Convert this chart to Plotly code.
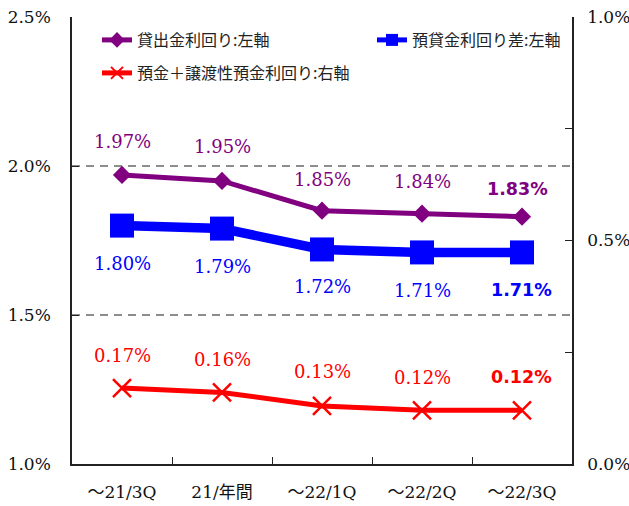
import plotly.graph_objects as go

# ---- data ----
categories = ["～21/3Q", "21/年間", "～22/1Q", "～22/2Q", "～22/3Q"]
lending_yield = [1.97, 1.95, 1.85, 1.84, 1.83]      # left axis
loan_deposit_spread = [1.80, 1.79, 1.72, 1.71, 1.71]  # left axis
deposit_yield = [0.17, 0.16, 0.13, 0.12, 0.12]      # right axis

series_names = ["貸出金利回り:左軸", "預貸金利回り差:左軸", "預金＋譲渡性預金利回り:右軸"]

left_ticks = [1.0, 1.5, 2.0, 2.5]
right_ticks = [0.0, 0.5, 1.0]
grid_levels = [1.5, 2.0]

# ---- styles ----
PURPLE = "#800080"
BLUE = "#0000FF"
RED = "#FF0000"
SERIF = "DejaVu Serif, Noto Sans CJK JP"
BOLD_SANS = "DejaVu Sans"
CJK = "Noto Sans CJK JP"

W, H = 629, 506
ML, MR, MT, MB = 72, 57, 17, 42
PW, PH = W - ML - MR, H - MT - MB

def px_x(x):
    return (x - ML) / PW

def px_y(y):
    return (H - MB - y) / PH

fig = go.Figure()

fig.add_trace(go.Scatter(
    x=categories, y=lending_yield, name=series_names[0], mode="lines+markers",
    line=dict(color=PURPLE, width=5),
    marker=dict(symbol="diamond", size=14, color=PURPLE),
    legend="legend", cliponaxis=False,
))
fig.add_trace(go.Scatter(
    x=categories, y=loan_deposit_spread, name=series_names[1], mode="lines+markers",
    line=dict(color=BLUE, width=9.5),
    marker=dict(symbol="square", size=24, color=BLUE),
    legend="legend2", cliponaxis=False,
))
fig.add_trace(go.Scatter(
    x=categories, y=deposit_yield, name=series_names[2], mode="lines+markers",
    yaxis="y2",
    line=dict(color=RED, width=5),
    marker=dict(symbol="x-thin", size=18, color=RED, line=dict(color=RED, width=2.5)),
    legend="legend3", cliponaxis=False,
))

# ---- data labels ----
label_specs = [
    (lending_yield, "y", PURPLE, [33, 34, 31, 32, 28], [0, 0, 0, 0, -5]),
    (loan_deposit_spread, "y", BLUE, [-38, -38, -37, -38, -38], [0, 0, 0, 0, -1]),
    (deposit_yield, "y2", RED, [33, 33, 34, 33, 33], [0, 0, 0, 0, -1]),
]
annotations = []
for values, yref, color, yshifts, xshifts in label_specs:
    n = len(values)
    for i, (c, v) in enumerate(zip(categories, values)):
        last = i == n - 1
        annotations.append(dict(
            x=c, y=v, xref="x", yref=yref,
            text=(f"<b>{v:.2f}%</b>" if last else f"{v:.2f}%"),
            showarrow=False, yshift=yshifts[i], xshift=xshifts[i],
            font=dict(family=(BOLD_SANS if last else SERIF),
                      size=(17.5 if last else 18), color=color),
        ))

# ---- dashed grid lines ----
shapes = [
    dict(type="line", xref="paper", x0=0, x1=1, yref="y", y0=g, y1=g,
         line=dict(color="#1a1a1a", width=1, dash="8px,6px"), layer="below")
    for g in grid_levels
]

legend_common = dict(
    orientation="h", xanchor="left", yanchor="middle",
    bgcolor="rgba(0,0,0,0)", borderwidth=0, itemsizing="constant",
    font=dict(family=CJK, size=16, color="#222222"),
)

fig.update_layout(
    width=W, height=H, autosize=False,
    margin=dict(l=ML, r=MR, t=MT, b=MB, pad=0, autoexpand=False),
    paper_bgcolor="white", plot_bgcolor="white",
    showlegend=True,
    legend=dict(legend_common, x=px_x(97), y=px_y(40)),
    legend2=dict(legend_common, x=px_x(372), y=px_y(40)),
    legend3=dict(legend_common, x=px_x(97), y=px_y(73)),
    xaxis=dict(
        type="category", range=[-0.5, len(categories) - 0.5],
        showline=True, linecolor="#222222", linewidth=1.5,
        ticks="inside", tickson="boundaries", ticklen=7, tickcolor="#222222", tickwidth=1,
        tickfont=dict(family=SERIF, size=17, color="#111111"),
        ticklabelstandoff=12, showgrid=False, zeroline=False, automargin=False,
    ),
    yaxis=dict(
        range=[left_ticks[0], left_ticks[-1]], tickmode="array", tickvals=left_ticks,
        ticktext=[f"{v:.1f}%" for v in left_ticks],
        showline=True, linecolor="#222222", linewidth=1.5,
        ticks="inside", ticklen=7, tickcolor="#222222",
        tickfont=dict(family=SERIF, size=17, color="#111111"),
        ticklabelstandoff=16, showgrid=False, zeroline=False, automargin=False,
    ),
    yaxis2=dict(
        overlaying="y", side="right", anchor="x",
        range=[right_ticks[0], right_ticks[-1]], tickmode="array", tickvals=right_ticks,
        ticktext=[f"{v:.1f}%" for v in right_ticks],
        showline=True, linecolor="#222222", linewidth=1.5,
        ticks="inside", ticklen=7, tickcolor="#222222",
        minor=dict(dtick=0.25, tick0=0, ticks="inside", ticklen=7, tickcolor="#222222"),
        tickfont=dict(family=SERIF, size=17, color="#111111"),
        ticklabelstandoff=10, showgrid=False, zeroline=False, automargin=False,
    ),
    annotations=annotations,
    shapes=shapes,
)

fig.write_html(
    "out.html",
    config={"responsive": False, "displayModeBar": False},
    post_script="document.body.style.margin='0';document.body.style.overflow='hidden';",
)
